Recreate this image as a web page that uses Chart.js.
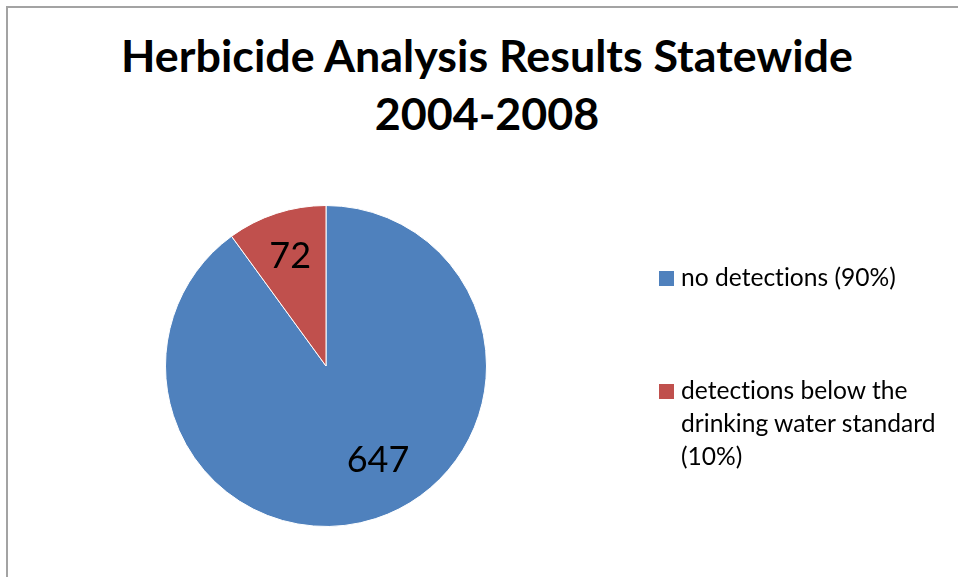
<!DOCTYPE html>
<html>
<head>
<meta charset="utf-8">
<script src="https://cdn.jsdelivr.net/npm/chart.js@4/dist/chart.umd.min.js"></script>
<style>
  html, body { margin: 0; padding: 0; background: #fff; overflow: hidden; }
  body { width: 958px; height: 577px; position: relative; font-family: Lato, 'Noto Sans', sans-serif;
         font-variant-ligatures: none; }
  #frame { position: absolute; left: 6px; top: 6px; width: 980px; height: 600px;
           border-left: 2px solid #a3a3a3; border-top: 2px solid #a3a3a3; }
  #pie { position: absolute; left: 0; top: 0; }
  #title { position: absolute; left: 16px; right: 0; top: 26px; text-align: center;
           font-weight: 700; font-size: 44.8px; line-height: 58px; color: #000; }
  #legend { position: absolute; left: 659px; top: 260px; }
  .item { display: flex; align-items: flex-start; margin-bottom: 80px; }
  .box { width: 15px; height: 15px; margin-top: 11px; margin-right: 7px; flex: none; }
  .txt { width: 280px; font-size: 24.6px; line-height: 33px; color: #000; }
</style>
</head>
<body>
<div id="frame"></div>
<div id="title"></div>
<canvas id="pie" width="958" height="577"></canvas>
<div id="legend"></div>
<script>
const titleLines = ['Herbicide Analysis Results Statewide', '2004-2008']
const categories = ['no detections (90%)', 'detections below the drinking water standard (10%)']
const counts = [647, 72]
const colors = ['#4F81BD', '#C0504D']

document.getElementById('title').innerHTML = titleLines.join('<br>')

// value labels drawn inside each slice
const sliceLabels = {
    id: 'sliceLabels',
    afterDatasetsDraw(chart, args, opts) {
        const { ctx } = chart
        const meta = chart.getDatasetMeta(0)
        ctx.save()
        ctx.font = opts.font
        ctx.fillStyle = '#000'
        ctx.textAlign = 'center'
        ctx.textBaseline = 'middle'
        meta.data.forEach((arc, i) => {
            const mid = (arc.startAngle + arc.endAngle) / 2 + opts.turn[i]
            const d = arc.outerRadius * opts.distance[i]
            ctx.fillText(chart.data.datasets[0].data[i], arc.x + Math.cos(mid) * d, arc.y + Math.sin(mid) * d)
        })
        ctx.restore()
    }
}

const data = {
    labels: categories,
    datasets: [{
        data: counts,
        backgroundColor: colors,
        borderColor: '#ffffff',
        borderWidth: 1
    }]
}

const options = {
    responsive: false,
    animation: false,
    layout: { padding: { left: 165, right: 471, top: 205, bottom: 50 } },
    plugins: {
        legend: { display: false },
        tooltip: { enabled: false },
        // excel's best-fit put the big label a bit off the slice middle
        sliceLabels: { font: '36px Lato', distance: [0.67, 0.72], turn: [-0.19, 0] }
    }
}

const chart = new Chart('pie', { type: 'pie', data, options, plugins: [sliceLabels] })

// html legend so long labels wrap like the original
const legend = document.getElementById('legend')
chart.data.labels.forEach((label, i) => {
    const item = document.createElement('div')
    item.className = 'item'
    item.innerHTML = `<div class="box" style="background:${colors[i]}"></div><div class="txt">${label}</div>`
    legend.appendChild(item)
})
</script>
</body>
</html>
